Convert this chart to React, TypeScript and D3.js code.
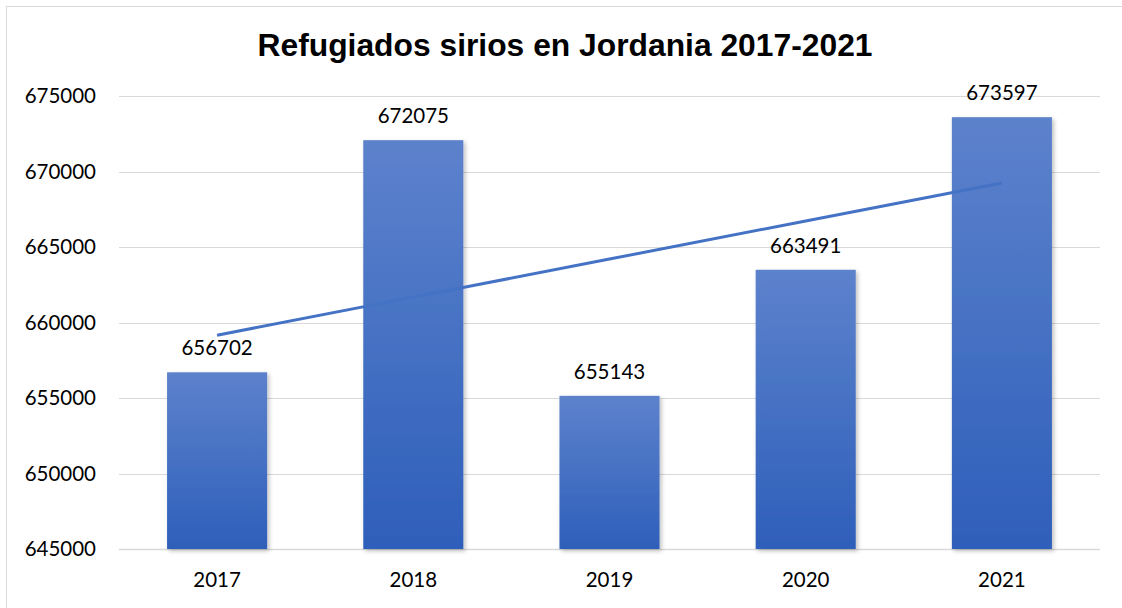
import React from "react";
import * as d3 from "d3";

const title = "Refugiados sirios en Jordania 2017-2021";
const years = ["2017", "2018", "2019", "2020", "2021"];
const refugees = [656702, 672075, 655143, 663491, 673597];
const yTicks = [645000, 650000, 655000, 660000, 665000, 670000, 675000];

const W = 1122;
const H = 608;
const margin = { left: 119, right: 22, top: 96, bottom: 59 };

export default function App() {
  const x = d3
    .scaleBand<string>()
    .domain(years)
    .range([margin.left, W - margin.right])
    .paddingInner(0.49)
    .paddingOuter(0.245);
  const y = d3
    .scaleLinear()
    .domain([645000, 675000])
    .range([H - margin.bottom, margin.top]);

  // linear trendline (least squares) over category index
  const n = refugees.length;
  const xs = refugees.map((_, i) => i);
  const mx = d3.mean(xs) as number;
  const my = d3.mean(refugees) as number;
  const slope =
    d3.sum(xs.map((xi, i) => (xi - mx) * (refugees[i] - my))) /
    d3.sum(xs.map((xi) => (xi - mx) * (xi - mx)));
  const icpt = my - slope * mx;
  const cx = (i: number) => (x(years[i]) as number) + x.bandwidth() / 2;
  const trend = d3
    .line<number>()
    .x((i) => cx(i))
    .y((i) => y(icpt + slope * i));

  const font = "Lato, 'Open Sans', sans-serif";

  return (
    <svg
      width={W}
      height={H}
      style={{ position: "absolute", left: 0, top: 0, background: "#fff" }}
    >
      <defs>
        <linearGradient id="barGrad" x1="0" y1="0" x2="0" y2="1">
          <stop offset="0%" stopColor="#5d82cc" />
          <stop offset="100%" stopColor="#2e5fba" />
        </linearGradient>
        <filter id="shadow" x="-20%" y="-20%" width="140%" height="140%">
          <feDropShadow dx="2" dy="2" stdDeviation="2" floodColor="#000" floodOpacity="0.25" />
        </filter>
      </defs>
      <rect x={6.5} y={6.5} width={W + 10} height={H + 10} fill="none" stroke="#d9d9d9" strokeWidth={1} />
      <text
        x={565}
        y={56}
        textAnchor="middle"
        fontFamily="'Liberation Sans', Arial, sans-serif"
        fontWeight="bold"
        fontSize={31.8}
        fill="#000"
      >
        {title}
      </text>
      {yTicks.map((t) => (
        <g key={t}>
          <line
            x1={margin.left}
            x2={W - margin.right}
            y1={Math.round(y(t)) + 0.5}
            y2={Math.round(y(t)) + 0.5}
            stroke="#d9d9d9"
            strokeWidth={t === 645000 ? 1.5 : 1}
          />
          <text
            x={96}
            y={y(t) + 7}
            textAnchor="end"
            fontFamily={font}
            fontSize={20.5}
            fill="#000"
          >
            {t}
          </text>
        </g>
      ))}
      {years.map((yr, i) => (
        <g key={yr}>
          <rect
            x={x(yr)}
            y={y(refugees[i])}
            width={x.bandwidth()}
            height={y(645000) - y(refugees[i])}
            fill="url(#barGrad)"
            filter="url(#shadow)"
          />
          <text
            x={cx(i)}
            y={y(refugees[i]) - 17}
            textAnchor="middle"
            fontFamily={font}
            fontSize={20.5}
            fill="#000"
          >
            {refugees[i]}
          </text>
          <text
            x={cx(i)}
            y={587}
            textAnchor="middle"
            fontFamily={font}
            fontSize={20.5}
            fill="#000"
          >
            {yr}
          </text>
        </g>
      ))}
      <path
        d={trend(d3.range(n)) as string}
        fill="none"
        stroke="#4472c4"
        strokeWidth={3}
      />
    </svg>
  );
}
